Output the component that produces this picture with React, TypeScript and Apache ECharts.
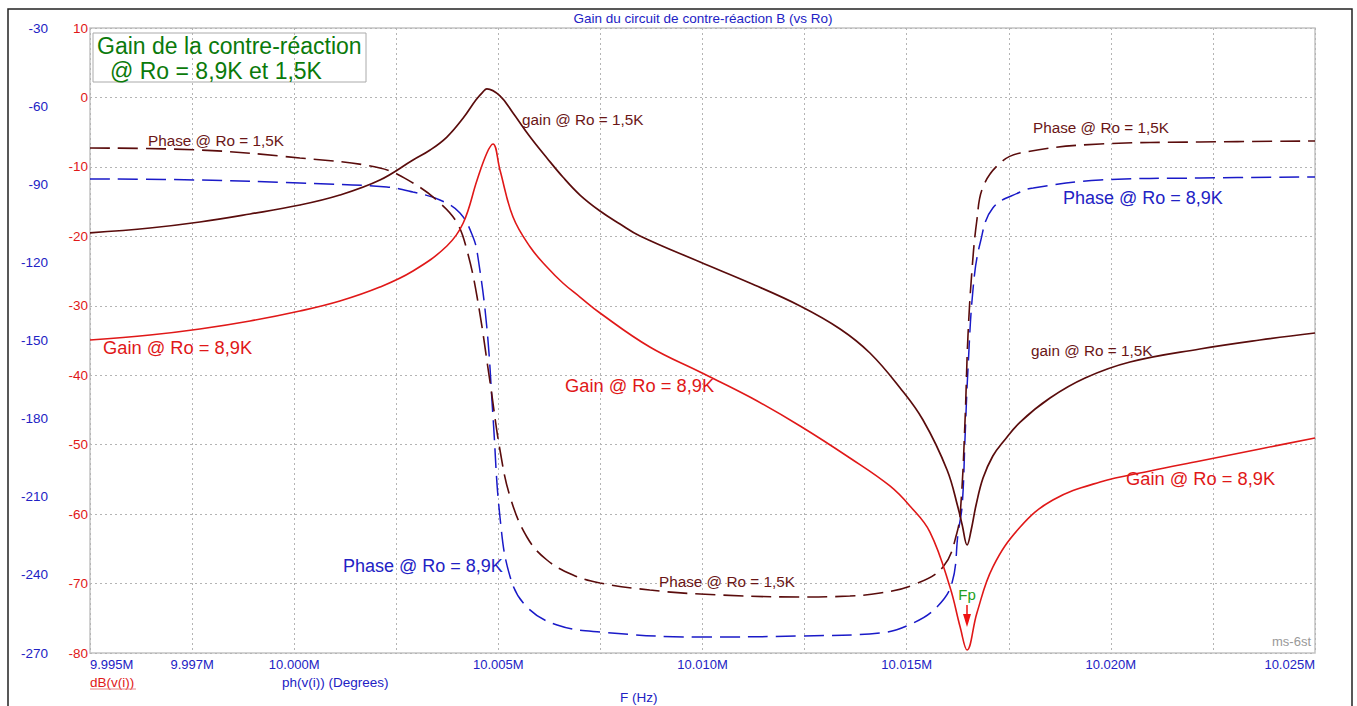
import React, { useEffect, useRef } from 'react';
import * as echarts from 'echarts';

// X tick labels (Hz)
const xLabelValues = [9995000, 9997500, 10000000, 10005000, 10010000, 10015000, 10020000, 10025000];
const xLabelTexts = ['9.995M', '9.997M', '10.000M', '10.005M', '10.010M', '10.015M', '10.020M', '10.025M'];

// Gain @ Ro = 1,5K (dB)
const gain15Freq = [9995000, 9996470, 9997690, 9998920, 10000140, 10001120, 10002100, 10002910, 10003330, 10003740, 10004140, 10004450, 10004620, 10004720, 10005040, 10005360, 10005780, 10006190, 10006580, 10007000, 10007490, 10007980, 10008470, 10009940, 10011160, 10012390, 10013370, 10014100, 10014840, 10015400, 10015990, 10016260, 10016360, 10016480, 10016580, 10016700, 10016870, 10017110, 10017360, 10017780, 10018510, 10019370, 10020470, 10022180, 10023650, 10025000];
const gain15Db = [-19.5, -18.8, -17.94, -16.78, -15.49, -14.05, -11.89, -9.01, -7.57, -5.7, -2.96, -0.37, 0.78, 1.22, 0.21, -2.24, -5.7, -8.72, -11.46, -14.05, -16.35, -18.22, -19.95, -23.7, -26.72, -30.03, -33.34, -36.8, -41.84, -46.45, -53.65, -59.12, -61.57, -64.45, -62.29, -58.69, -54.8, -51.63, -49.62, -46.74, -43.28, -40.4, -38.1, -36.22, -34.93, -33.92];

// Gain @ Ro = 8,9K (dB)
const gain89Freq = [9995000, 9996470, 9997690, 9998920, 10000140, 10001120, 10002100, 10002910, 10003740, 10004140, 10004480, 10004720, 10004870, 10005040, 10005360, 10005780, 10006190, 10006580, 10007000, 10007490, 10008710, 10009940, 10011160, 10012390, 10013610, 10014590, 10015080, 10015570, 10016060, 10016310, 10016480, 10016720, 10017110, 10017780, 10018580, 10019740, 10020960, 10022180, 10023650, 10025000];
const gain89Db = [-34.93, -34.21, -33.34, -32.19, -30.75, -29.31, -27.3, -24.99, -21.39, -18.08, -11.89, -8.0, -6.7, -10.45, -17.22, -21.54, -24.42, -26.72, -28.74, -31.04, -35.94, -39.54, -43.14, -47.31, -51.92, -55.95, -58.83, -62.58, -70.5, -76.26, -79.57, -74.24, -67.62, -61.86, -57.97, -55.38, -53.79, -52.35, -50.62, -49.04];

// Phase @ Ro = 1,5K (degrees)
const phase15Freq = [9995000, 9997690, 10000140, 10002100, 10002910, 10003570, 10003990, 10004230, 10004480, 10004800, 10005040, 10005290, 10005700, 10006190, 10006830, 10007490, 10008710, 10009940, 10012390, 10013610, 10014350, 10015160, 10015890, 10016230, 10016330, 10016430, 10016500, 10016600, 10016720, 10016870, 10017290, 10017780, 10019740, 10022180, 10025000];
const phase15Deg = [-76.08, -76.85, -79.92, -83.76, -89.52, -97.2, -104.88, -115.25, -133.3, -166.32, -192.05, -210.1, -225.46, -234.29, -240.05, -243.12, -245.81, -247.34, -248.5, -248.1, -246.96, -243.89, -236.98, -223.92, -212.4, -180.53, -148.66, -122.93, -103.73, -91.06, -81.84, -78.0, -74.54, -73.78, -73.39];

// Phase @ Ro = 8,9K (degrees)
const phase89Freq = [9995000, 9997690, 10000140, 10002270, 10002910, 10003570, 10004060, 10004380, 10004500, 10004720, 10004870, 10005040, 10005290, 10005700, 10006440, 10007490, 10009940, 10012390, 10014350, 10015160, 10015740, 10016110, 10016260, 10016360, 10016430, 10016500, 10016630, 10016800, 10017110, 10017780, 10018100, 10019740, 10022180, 10025000];
const phase89Deg = [-87.98, -88.37, -89.52, -91.06, -92.98, -96.05, -101.04, -110.26, -117.94, -145.2, -179.38, -217.78, -240.82, -252.34, -259.25, -261.94, -263.86, -263.47, -262.32, -258.48, -252.34, -243.12, -223.92, -213.17, -187.06, -161.33, -129.46, -112.56, -99.12, -92.98, -91.44, -88.37, -87.6, -87.22];

const BROWN = '#5a0c0c';
const BROWN_T = '#6a1616';
const RED = '#e01818';
const BLUE = '#1a1ac8';
const BLUE_T = '#2222c4';
const GREEN = '#0b7a0b';
const FONT = '"Liberation Sans", Arial, Helvetica, sans-serif';

function zip(f: number[], v: number[]) {
  return f.map((x, i) => [x, v[i]]);
}

function txt(text: string, x: number, y: number, color: string, size: number, align: string = 'left') {
  return {
    type: 'text',
    x,
    y,
    z: 100,
    silent: true,
    style: {
      text,
      fill: color,
      fontSize: size,
      fontFamily: FONT,
      textAlign: align,
      textVerticalAlign: 'middle',
      align,
      verticalAlign: 'middle',
    },
  };
}

export default function App() {
  const ref = useRef<HTMLDivElement>(null);
  useEffect(() => {
    const chart = echarts.init(ref.current!, null, { renderer: 'svg' });
    const gridLine = { show: true, lineStyle: { color: '#b4b4b4', width: 1, type: [2, 3] } };
    const lineBase = { type: 'line', showSymbol: false, symbol: 'none', smooth: 0.4, silent: true };
    chart.setOption({
      animation: false,
      backgroundColor: '#ffffff',
      grid: { left: 90, right: 42, top: 28, bottom: 53, show: true, borderColor: '#c4c4c4', borderWidth: 1.5, backgroundColor: 'transparent' },
      xAxis: {
        type: 'value',
        min: 9995000,
        max: 10025000,
        interval: 2500,
        axisLine: { show: false },
        axisTick: { show: false },
        splitLine: gridLine,
        axisLabel: {
          color: BLUE_T,
          fontSize: 13,
          fontFamily: FONT,
          margin: 5,
          showMinLabel: true,
          showMaxLabel: true,
          alignMinLabel: 'left',
          alignMaxLabel: 'right',
          formatter: (v: number) => {
            const i = xLabelValues.indexOf(Math.round(v));
            return i >= 0 ? xLabelTexts[i] : '';
          },
        },
      },
      yAxis: [
        {
          type: 'value',
          position: 'left',
          min: -80,
          max: 10,
          interval: 10,
          axisLine: { show: false },
          axisTick: { show: false },
          splitLine: gridLine,
          axisLabel: { color: RED, fontSize: 13.5, fontFamily: FONT, margin: 2, showMinLabel: true, showMaxLabel: true },
        },
        {
          type: 'value',
          position: 'left',
          offset: 40,
          min: -270,
          max: -30,
          interval: 30,
          axisLine: { show: false },
          axisTick: { show: false },
          splitLine: { show: false },
          axisLabel: { color: BLUE_T, fontSize: 13.5, fontFamily: FONT, margin: 2, showMinLabel: true, showMaxLabel: true },
        },
      ],
      series: [
        { ...lineBase, name: 'Phase @ Ro = 8,9K', yAxisIndex: 1, data: zip(phase89Freq, phase89Deg), lineStyle: { color: BLUE, width: 1.5, type: [20, 8] }, z: 2 },
        { ...lineBase, name: 'Phase @ Ro = 1,5K', yAxisIndex: 1, data: zip(phase15Freq, phase15Deg), lineStyle: { color: BROWN, width: 1.6, type: [20, 8] }, z: 3 },
        { ...lineBase, name: 'gain @ Ro = 1,5K', yAxisIndex: 0, data: zip(gain15Freq, gain15Db), lineStyle: { color: BROWN, width: 1.7 }, z: 4 },
        { ...lineBase, name: 'Gain @ Ro = 8,9K', yAxisIndex: 0, data: zip(gain89Freq, gain89Db), lineStyle: { color: RED, width: 1.6 }, z: 5 },
      ],
      graphic: [
        { type: 'rect', silent: true, z: 90, shape: { x: 8, y: 9, width: 1344, height: 720 }, style: { fill: 'none', stroke: '#222', lineWidth: 1.5 } },
        txt('Gain du circuit de contre-réaction B (vs Ro)', 703, 18, BLUE_T, 13.5, 'center'),
        { type: 'rect', silent: true, z: 95, shape: { x: 93, y: 33, width: 273, height: 49 }, style: { fill: 'none', stroke: '#aaaaaa', lineWidth: 1 } },
        txt('Gain de la contre-réaction', 97, 46, GREEN, 23),
        txt('@ Ro = 8,9K et 1,5K', 110, 71, GREEN, 23),
        txt('gain @ Ro = 1,5K', 522, 119, BROWN_T, 15.3),
        txt('Phase @ Ro = 1,5K', 148, 140, BROWN_T, 15.3),
        txt('Phase @ Ro = 1,5K', 1033, 127, BROWN_T, 15.3),
        txt('Phase @ Ro = 8,9K', 1063, 198, BLUE_T, 18),
        txt('Gain @ Ro = 8,9K', 103, 347, RED, 18.3),
        txt('gain @ Ro = 1,5K', 1031, 350, BROWN_T, 15.3),
        txt('Gain @ Ro = 8,9K', 565, 385, RED, 18.3),
        txt('Gain @ Ro = 8,9K', 1126, 478, RED, 18.3),
        txt('Phase @ Ro = 8,9K', 343, 566, BLUE_T, 18),
        txt('Phase @ Ro = 1,5K', 659, 581, BROWN_T, 15.3),
        txt('Fp', 967, 594, '#22a022', 15, 'center'),
        { type: 'line', silent: true, z: 100, shape: { x1: 967, y1: 605, x2: 967, y2: 616 }, style: { stroke: '#ee1111', lineWidth: 1.5 } },
        { type: 'polygon', silent: true, z: 100, shape: { points: [[963, 614], [971, 614], [967, 627]] }, style: { fill: '#ee1111' } },
        txt('ms-6st', 1311, 641, '#999999', 13, 'right'),
        txt('dB(v(i))', 90, 682, RED, 13.5),
        { type: 'line', silent: true, z: 100, shape: { x1: 90, y1: 689, x2: 136, y2: 689 }, style: { stroke: '#e88888', lineWidth: 1.2 } },
        txt('ph(v(i)) (Degrees)', 282, 682, BLUE_T, 13.5),
        txt('F (Hz)', 620, 697, BLUE_T, 13.5),
      ],
    });
    return () => chart.dispose();
  }, []);
  return <div ref={ref} style={{ position: 'absolute', left: 0, top: 0, width: 1357, height: 706 }} />;
}
